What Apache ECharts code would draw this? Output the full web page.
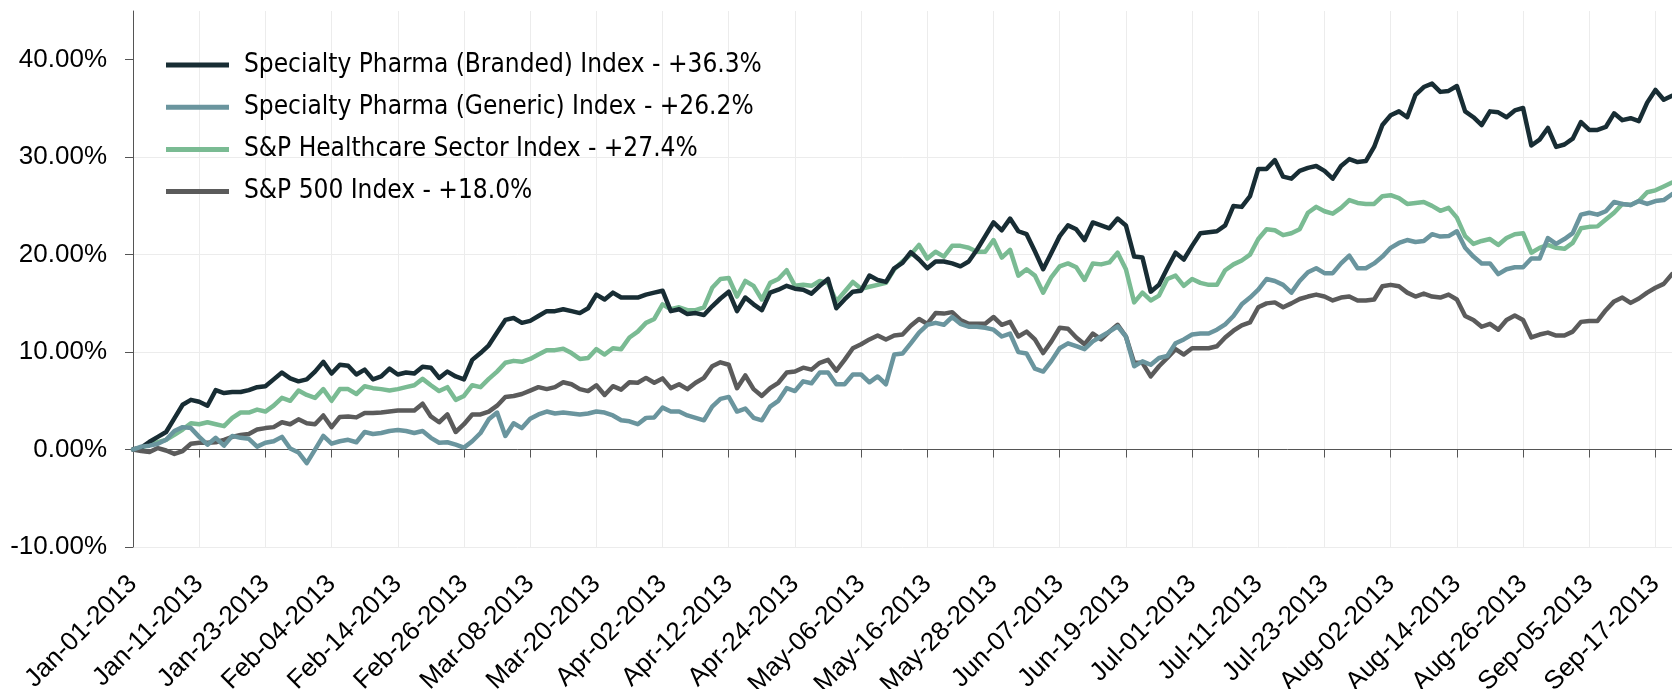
<!DOCTYPE html>
<html>
<head>
<meta charset="utf-8">
<script src="https://cdn.jsdelivr.net/npm/echarts@6/dist/echarts.min.js"></script>
<style>
html,body{margin:0;padding:0;background:#fff;}
#chart{width:1672px;height:689px;}
</style>
</head>
<body>
<div id="chart"></div>
<script>
// Trading days shown on the category axis (weekdays, Good Friday excluded)
const monthNames = ['Jan','Feb','Mar','Apr','May','Jun','Jul','Aug','Sep'];
const tradingDays = [
  [1,2,3,4,7,8,9,10,11,14,15,16,17,18,21,22,23,24,25,28,29,30,31],
  [1,4,5,6,7,8,11,12,13,14,15,18,19,20,21,22,25,26,27,28],
  [1,4,5,6,7,8,11,12,13,14,15,18,19,20,21,22,25,26,27,28],
  [1,2,3,4,5,8,9,10,11,12,15,16,17,18,19,22,23,24,25,26,29,30],
  [1,2,3,6,7,8,9,10,13,14,15,16,17,20,21,22,23,24,27,28,29,30,31],
  [3,4,5,6,7,10,11,12,13,14,17,18,19,20,21,24,25,26,27,28],
  [1,2,3,4,5,8,9,10,11,12,15,16,17,18,19,22,23,24,25,26,29,30,31],
  [1,2,5,6,7,8,9,12,13,14,15,16,19,20,21,22,23,26,27,28,29,30],
  [2,3,4,5,6,9,10,11,12,13,16,17,18,19]
];
const categories = [];
tradingDays.forEach((days, m) => days.forEach(d => categories.push(monthNames[m] + '-' + String(d).padStart(2, '0') + '-2013')));

const seriesNames = [
  'Specialty Pharma (Branded) Index - +36.3%',
  'Specialty Pharma (Generic) Index - +26.2%',
  'S&P Healthcare Sector Index - +27.4%',
  'S&P 500 Index - +18.0%'
];

const branded = [
  0,0.2,0.8,1.3,1.8,3.2,4.6,5.1,4.9,4.5,6.1,5.8,5.9,5.9,6.1,6.4,6.5,7.2,7.9,7.3,
  7.0,7.2,8.0,9.0,7.8,8.7,8.6,7.7,8.2,7.2,7.5,8.3,7.7,7.9,7.8,8.5,8.4,7.35,8.0,7.5,
  7.2,9.2,9.9,10.7,12.0,13.3,13.5,13.0,13.2,13.7,14.2,14.2,14.4,14.2,14.0,14.5,15.9,15.4,16.1,15.6,
  15.6,15.6,15.9,16.1,16.3,14.2,14.4,13.9,14.0,13.8,14.7,15.5,16.2,14.2,15.6,14.9,14.3,16.1,16.4,16.8,
  16.5,16.4,16.0,16.8,17.5,14.5,15.4,16.2,16.3,17.85,17.4,17.2,18.6,19.15,20.25,19.5,18.6,19.3,19.3,19.1,
  18.8,19.3,20.5,21.9,23.3,22.5,23.7,22.4,22.1,20.35,18.5,20.2,21.9,23.0,22.6,21.5,23.3,23.0,22.7,23.7,
  23.0,19.8,19.7,16.2,16.9,18.6,20.2,19.5,20.9,22.2,22.3,22.4,23.0,25.0,24.9,26.0,28.8,28.8,29.7,28.0,
  27.8,28.6,28.9,29.1,28.6,27.8,29.1,29.8,29.5,29.6,31.05,33.3,34.3,34.7,34.1,36.4,37.2,37.55,36.7,36.8,
  37.3,34.7,34.1,33.3,34.7,34.6,34.1,34.8,35.05,31.2,31.8,33.0,31.05,31.3,31.9,33.6,32.8,32.8,33.1,34.5,
  33.8,34.0,33.7,35.6,36.9,35.9,36.3
];

const generic = [
  0,0.3,0.4,0.6,1.0,1.9,2.3,2.2,1.3,0.5,1.2,0.4,1.4,1.2,1.1,0.3,0.7,0.85,1.3,0.1,
  -0.3,-1.4,0.0,1.4,0.6,0.85,1.0,0.75,1.8,1.6,1.7,1.9,2.0,1.9,1.7,1.9,1.2,0.7,0.75,0.5,
  0.2,0.85,1.7,3.1,3.8,1.4,2.7,2.2,3.15,3.6,3.9,3.7,3.8,3.7,3.6,3.7,3.9,3.8,3.5,3.0,
  2.9,2.6,3.25,3.3,4.3,3.9,3.9,3.5,3.25,3.0,4.4,5.2,5.4,3.9,4.2,3.25,3.0,4.4,5.0,6.3,
  6.0,7.0,6.8,7.9,7.9,6.7,6.7,7.7,7.7,6.9,7.5,6.7,9.75,9.85,10.9,12.0,12.8,13.0,12.8,13.6,
  12.9,12.6,12.6,12.5,12.3,11.6,11.9,10.0,9.85,8.3,8.0,9.1,10.4,10.9,10.6,10.3,11.1,11.6,12.1,12.65,
  11.6,8.55,9.05,8.7,9.4,9.6,10.9,11.3,11.8,11.9,11.9,12.3,12.85,13.7,14.9,15.6,16.4,17.5,17.3,16.9,
  16.1,17.3,18.2,18.6,18.1,18.1,19.1,19.9,18.6,18.6,19.1,19.8,20.7,21.2,21.5,21.3,21.4,22.1,21.85,21.9,
  22.4,20.7,19.8,19.1,19.1,18.0,18.5,18.7,18.7,19.6,19.6,21.7,21.1,21.6,22.2,24.1,24.3,24.1,24.45,25.4,
  25.2,25.1,25.5,25.2,25.5,25.6,26.2
];

const healthcare = [
  0,0.2,0.5,0.75,1.0,1.5,2.05,2.7,2.6,2.8,2.6,2.4,3.25,3.8,3.8,4.1,3.9,4.5,5.3,5.0,
  6.05,5.6,5.3,6.2,5.0,6.2,6.2,5.7,6.5,6.3,6.2,6.05,6.2,6.4,6.6,7.25,6.6,6.0,6.4,5.1,
  5.5,6.6,6.4,7.25,8.0,8.9,9.1,9.0,9.3,9.75,10.2,10.2,10.35,9.9,9.3,9.4,10.3,9.75,10.4,10.3,
  11.5,12.1,13.0,13.4,14.9,14.4,14.6,14.3,14.3,14.6,16.6,17.5,17.6,15.7,17.3,16.8,15.4,17.1,17.5,18.4,
  16.8,16.9,16.8,17.3,17.1,15.2,16.2,17.2,16.5,16.7,16.9,17.1,18.5,19.3,20.0,21.0,19.6,20.3,19.8,20.9,
  20.9,20.7,20.3,20.3,21.5,19.7,20.5,17.85,18.5,17.85,16.1,17.7,18.8,19.1,18.7,17.4,19.1,19.0,19.2,20.2,
  18.5,15.1,16.1,15.3,15.8,17.5,17.85,16.8,17.5,17.1,16.9,16.9,18.4,19.0,19.4,20.0,21.6,22.6,22.5,22.0,
  22.2,22.6,24.3,24.9,24.45,24.2,24.8,25.6,25.3,25.2,25.2,26.0,26.1,25.8,25.2,25.3,25.4,25.0,24.5,24.8,
  23.8,21.9,21.1,21.4,21.6,21.0,21.7,22.1,22.2,20.2,20.7,21.0,20.7,20.6,21.2,22.7,22.85,22.9,23.6,24.3,
  25.2,25.1,25.5,26.4,26.6,27.0,27.4
];

const sp500 = [
  0,-0.15,-0.25,0.15,-0.1,-0.45,-0.15,0.6,0.7,0.7,0.75,1.0,1.3,1.5,1.6,2.05,2.2,2.3,2.8,2.6,
  3.1,2.7,2.6,3.5,2.3,3.35,3.4,3.3,3.75,3.75,3.8,3.9,4.0,4.0,4.0,4.7,3.4,2.8,3.6,1.8,
  2.6,3.6,3.6,3.9,4.5,5.4,5.5,5.7,6.05,6.4,6.2,6.4,6.9,6.7,6.2,6.0,6.6,5.6,6.5,6.15,
  6.9,6.85,7.35,6.85,7.3,6.3,6.7,6.2,6.85,7.35,8.55,8.95,8.7,6.3,7.6,6.2,5.5,6.3,6.85,7.9,
  8.0,8.4,8.2,8.9,9.2,8.1,9.2,10.4,10.8,11.3,11.7,11.3,11.7,11.8,12.7,13.4,12.9,14.0,13.95,14.1,
  13.3,12.9,12.9,12.9,13.6,12.8,13.1,11.6,12.1,11.3,9.9,11.1,12.5,12.4,11.5,10.8,11.9,11.3,12.1,12.8,
  11.6,8.9,8.9,7.5,8.55,9.4,10.3,9.75,10.4,10.4,10.4,10.6,11.5,12.2,12.75,13.05,14.6,15.0,15.1,14.6,
  15.0,15.45,15.7,15.9,15.7,15.3,15.6,15.7,15.3,15.3,15.4,16.75,16.9,16.75,16.1,15.7,16.0,15.7,15.6,15.9,
  15.4,13.7,13.3,12.6,12.9,12.3,13.3,13.75,13.3,11.5,11.8,12.0,11.7,11.7,12.1,13.1,13.2,13.2,14.3,15.2,
  15.6,15.05,15.5,16.1,16.6,17.0,18.0
];

const yTicks = [-10, 0, 10, 20, 30, 40];
const colors = ['#182d34', '#6a959e', '#7abb93', '#5b5b5b'];
const zOrder = [3, 5, 2, 4];

const chart = echarts.init(document.getElementById('chart'), null, {renderer: 'canvas'});
const values = [branded, generic, healthcare, sp500];
const axisFont = "'Liberation Sans', Arial, sans-serif";

chart.setOption({
  animation: false,
  backgroundColor: '#ffffff',
  color: colors,
  grid: {left: 133, right: 0, top: 11, bottom: 142, containLabel: false, outerBoundsMode: 'none'},
  legend: {
    orient: 'vertical',
    left: 161,
    top: 45,
    icon: 'rect',
    itemWidth: 63,
    itemHeight: 5,
    itemGap: 12.2,
    data: seriesNames,
    textStyle: {
      fontFamily: "'DejaVu Sans Condensed', 'DejaVu Sans', sans-serif",
      fontSize: 26,
      lineHeight: 30,
      color: '#000',
      padding: [0, 0, 0, 10]
    }
  },
  xAxis: {
    type: 'category',
    boundaryGap: false,
    data: categories,
    axisLine: {lineStyle: {color: '#555', width: 1}},
    axisTick: {show: true, interval: 7, length: 8, lineStyle: {color: '#555'}},
    axisLabel: {interval: 7, rotate: 45, fontSize: 26, fontFamily: axisFont, color: '#000', margin: 33},
    splitLine: {show: true, interval: 7, lineStyle: {color: '#ececec', width: 1}}
  },
  yAxis: {
    type: 'value',
    min: -10,
    max: 45,
    interval: 10,
    axisLine: {show: true, lineStyle: {color: '#555', width: 1}},
    axisTick: {show: true, length: 8, lineStyle: {color: '#555'}, customValues: yTicks},
    axisLabel: {
      fontSize: 26, fontFamily: axisFont, color: '#000', margin: 26,
      customValues: yTicks,
      formatter: v => v.toFixed(2) + '%'
    },
    splitLine: {show: true, showMaxLine: false, lineStyle: {color: '#ececec', width: 1}}
  },
  series: seriesNames.map((name, k) => ({
    name: name,
    type: 'line',
    data: values[k],
    z: zOrder[k],
    showSymbol: false,
    symbol: 'none',
    lineStyle: {width: 4.5, color: colors[k], cap: 'round', join: 'round'},
    itemStyle: {color: colors[k]},
    emphasis: {disabled: true}
  }))
});
</script>
</body>
</html>
